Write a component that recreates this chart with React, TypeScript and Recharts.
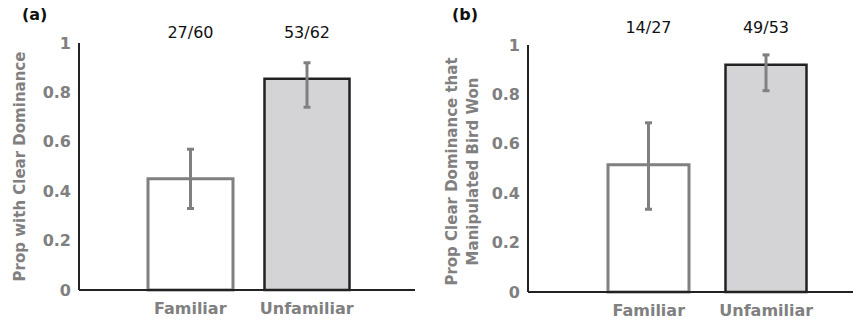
import React from 'react';
import { BarChart, Bar, XAxis, YAxis, Cell, ErrorBar, LabelList } from 'recharts';

const categories = ['Familiar', 'Unfamiliar'];
const yTicks = [0, 0.2, 0.4, 0.6, 0.8, 1];

// panel (a)
const propA = [0.45, 0.855];
const lowA = [0.33, 0.74];
const highA = [0.57, 0.92];
const countsA = ['27/60', '53/62'];

// panel (b)
const propB = [0.515, 0.92];
const lowB = [0.335, 0.815];
const highB = [0.685, 0.96];
const countsB = ['14/27', '49/53'];

const fills = ['#ffffff', '#d4d4d6'];
const strokes = ['#808080', '#222222'];
const strokeWidths = [3, 2.5];

const font = '"DejaVu Sans", sans-serif';
const grey = '#808080';
const axisColor = '#222222';

const buildRows = (vals: number[], lo: number[], hi: number[], counts: string[]) =>
    categories.map((name, i) => ({
        name,
        value: vals[i],
        err: [vals[i] - lo[i], hi[i] - vals[i]],
        count: counts[i],
    }));

const dataA = buildRows(propA, lowA, highA, countsA);
const dataB = buildRows(propB, lowB, highB, countsB);

const tickStyle = { fill: grey, fontSize: 16, fontWeight: 700, fontFamily: font };

const Panel = ({ data, width, yWidth, margin, padding, barSize, title, countY, titleX, titleDy }: any) => {
    const renderTitle = (props: any) => {
        const vb = props.viewBox;
        const cy = vb.y + vb.height / 2 + titleDy;
        return (
            <g>
                {title.map((line: string, i: number) => {
                    const x = titleX[i];
                    return (
                        <text
                            key={i}
                            x={x}
                            y={cy}
                            transform={`rotate(-90, ${x}, ${cy})`}
                            textAnchor="middle"
                            dominantBaseline="central"
                            fill={grey}
                            fontSize={15}
                            fontWeight={700}
                            fontFamily={font}
                        >
                            {line}
                        </text>
                    );
                })}
            </g>
        );
    };

    const renderCount = (props: any) => {
        const { x, width: w, value } = props;
        return (
            <text
                x={x + w / 2}
                y={countY}
                textAnchor="middle"
                dominantBaseline="central"
                fill="#111"
                fontSize={16}
                fontFamily={font}
            >
                {value}
            </text>
        );
    };

    return (
        <BarChart width={width} height={324} data={data} margin={margin} barSize={barSize}>
            <XAxis
                dataKey="name"
                height={30}
                padding={padding}
                tickLine={false}
                axisLine={{ stroke: axisColor, strokeWidth: 2 }}
                tick={tickStyle}
                tickMargin={7}
                interval={0}
            />
            <YAxis
                width={yWidth}
                domain={[0, 1]}
                ticks={yTicks}
                tickLine={false}
                axisLine={{ stroke: axisColor, strokeWidth: 2 }}
                tick={tickStyle}
                tickFormatter={(v: number) => String(v)}
                label={{ content: renderTitle }}
            />
            <Bar dataKey="value" isAnimationActive={false}>
                {data.map((_: any, i: number) => (
                    <Cell key={i} fill={fills[i]} stroke={strokes[i]} strokeWidth={strokeWidths[i]} />
                ))}
                <ErrorBar dataKey="err" width={3.5} stroke={grey} strokeWidth={3} />
                <LabelList dataKey="count" content={renderCount} />
            </Bar>
        </BarChart>
    );
};

const panelLabel: React.CSSProperties = {
    position: 'absolute',
    top: 5,
    fontFamily: font,
    fontWeight: 700,
    fontSize: 16,
    lineHeight: '20px',
    color: '#111',
};

export default function App() {
    return (
        <div style={{ position: 'absolute', left: 0, top: 0, width: 853, height: 324, background: '#fff' }}>
            <div style={{ position: 'absolute', left: 0, top: 0 }}>
                <Panel
                    data={dataA}
                    width={420}
                    yWidth={79}
                    margin={{ top: 43, right: 5, bottom: 4, left: 0 }}
                    padding={{ left: 53, right: 50 }}
                    barSize={85}
                    title={['Prop with Clear Dominance']}
                    titleX={[20]}
                    titleDy={0}
                    countY={32}
                />
            </div>
            <div style={{ position: 'absolute', left: 428, top: 0 }}>
                <Panel
                    data={dataB}
                    width={425}
                    yWidth={100}
                    margin={{ top: 45, right: 0, bottom: 2, left: 0 }}
                    padding={{ left: 62, right: 28 }}
                    barSize={81}
                    title={['Prop Clear Dominance that', 'Manipulated Bird Won']}
                    titleX={[24, 45]}
                    titleDy={3}
                    countY={27}
                />
            </div>
            <div style={{ ...panelLabel, left: 22 }}>(a)</div>
            <div style={{ ...panelLabel, left: 452 }}>(b)</div>
        </div>
    );
}
